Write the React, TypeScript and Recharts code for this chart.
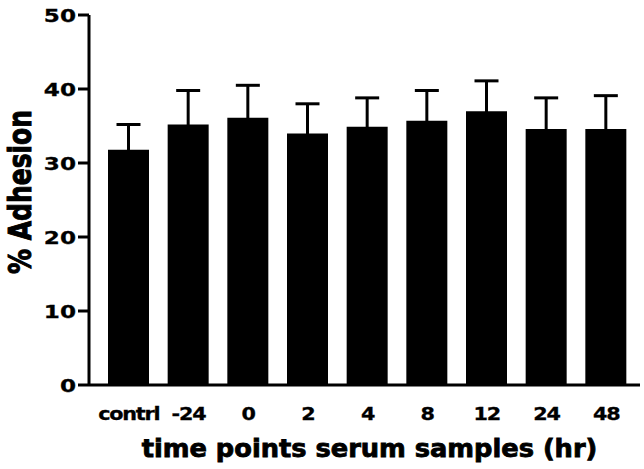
import React from "react";
import { BarChart, Bar, XAxis, YAxis, ErrorBar } from "recharts";

const categories = ["contrl", "-24", "0", "2", "4", "8", "12", "24", "48"];
const adhesion = [31.8, 35.2, 36.1, 34.0, 34.9, 35.7, 37.0, 34.6, 34.6];
const sem = [3.4, 4.6, 4.4, 4.0, 3.9, 4.1, 4.1, 4.2, 4.5];
const yTicks = [0, 10, 20, 30, 40, 50];
const xTitle = "time points serum samples (hr)";
const yTitle = "% Adhesion";

const data = categories.map((c, i) => ({ name: c, value: adhesion[i], err: sem[i] }));

const FONT = "'DejaVu Sans', 'Liberation Sans', Arial, sans-serif";

const XTick = (props: any) => {
  const { x, y, payload } = props;
  return (
    <g transform={`translate(${x},${y + 35}) scale(1.22,1)`}>
      <text x={0} y={0} textAnchor="middle" fontFamily={FONT} fontWeight="bold" fontSize={17} letterSpacing={-1} fill="#000" stroke="#000" strokeWidth={0.3}>
        {payload.value}
      </text>
    </g>
  );
};

const YTick = (props: any) => {
  const { x, y, payload } = props;
  return (
    <g transform={`translate(${x},${y}) scale(1.25,1)`}>
      <text x={0} y={0} dy="0.36em" textAnchor="end" fontFamily={FONT} fontWeight="bold" fontSize={18.5} fill="#000" stroke="#000" strokeWidth={0.3}>
        {payload.value}
      </text>
    </g>
  );
};

const XTitle = (props: any) => {
  const vb = props.viewBox || { x: 89, y: 385, width: 551, height: 60 };
  const cx = vb.x + vb.width / 2 + 5;
  const by = vb.y + 72;
  return (
    <g transform={`translate(${cx},${by}) scale(1.07,1)`}>
      <text x={0} y={0} textAnchor="middle" fontFamily={FONT} fontWeight="bold" fontSize={24} fill="#000" stroke="#000" strokeWidth={0.8}>
        {xTitle}
      </text>
    </g>
  );
};

const YTitle = (props: any) => {
  const vb = props.viewBox || { x: 0, y: 15, width: 89, height: 370 };
  const cy = vb.y + vb.height / 2 - 8;
  return (
    <g transform={`translate(31,${cy}) scale(1.3,1) rotate(-90)`}>
      <text x={0} y={0} textAnchor="middle" fontFamily={FONT} fontWeight="bold" fontSize={25} fill="#000" stroke="#000" strokeWidth={0.8}>
        {yTitle}
      </text>
    </g>
  );
};

export default function App() {
  return (
    <div style={{ position: "absolute", left: 0, top: 0, width: 644, height: 469, background: "#fff" }}>
      <BarChart
        width={644}
        height={469}
        data={data}
        margin={{ top: 15, right: 4, bottom: 24, left: 0 }}
        barCategoryGap={0}
      >
        <XAxis
          dataKey="name"
          height={60}
          padding={{ left: 10, right: 4 }}
          axisLine={{ stroke: "#000", strokeWidth: 3 }}
          tickLine={false}
          tickSize={0}
          tickMargin={0}
          tick={<XTick />}
          interval={0}
          label={{ content: <XTitle /> }}
        />
        <YAxis
          width={89}
          domain={[0, 50]}
          ticks={yTicks}
          interval={0}
          axisLine={{ stroke: "#000", strokeWidth: 3 }}
          tickLine={{ stroke: "#000", strokeWidth: 3 }}
          tickSize={11}
          tickMargin={2}
          tick={<YTick />}
          label={{ content: <YTitle /> }}
        />
        <Bar dataKey="value" fill="#000" barSize={41} isAnimationActive={false}>
          <ErrorBar dataKey="err" width={12} stroke="#000" strokeWidth={3} direction="y" />
        </Bar>
      </BarChart>
    </div>
  );
}
